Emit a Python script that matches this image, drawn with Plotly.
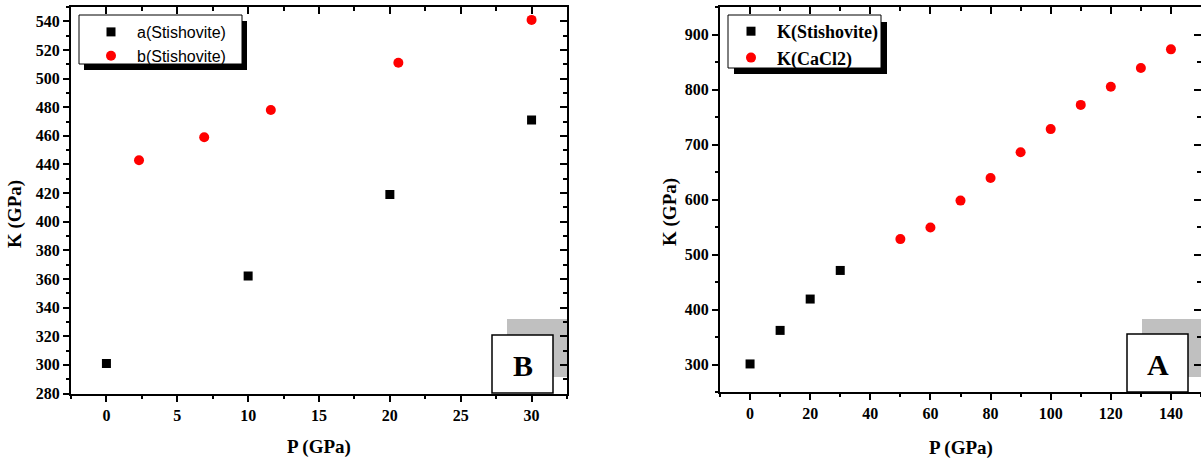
import plotly.graph_objects as go

W, H = 1201, 458

# ---- Panel B data ----
P_a = [0, 10, 20, 30]
K_a = [301, 362, 419, 471]
P_b = [2.3, 6.9, 11.6, 20.6, 30.0]
K_b = [443, 459, 478, 511, 541]

# ---- Panel A data ----
P_stish = [0, 10, 20, 30]
K_stish = [301, 362, 419, 471]
P_cacl2 = [50, 60, 70, 80, 90, 100, 110, 120, 130, 140]
K_cacl2 = [528, 549, 598, 639, 686, 728, 772, 805, 839, 873]

names_B = ["a(Stishovite)", "b(Stishovite)"]
names_A = ["K(Stishovite)", "K(CaCl2)"]
x_title = "P (GPa)"
y_title = "K (GPa)"
panel_labels = ["B", "A"]


def fx(p):
    return p / W


def fy(p):
    return 1 - p / H


SERIF = "Liberation Serif, Times New Roman, serif"
SANS = "Liberation Sans, Arial, sans-serif"

fig = go.Figure()

sq = dict(symbol="square", size=9, color="black")
ci = dict(symbol="circle", size=10, color="#ff0000")

fig.add_trace(go.Scatter(x=P_a, y=K_a, mode="markers", marker=sq, name=names_B[0],
                         xaxis="x", yaxis="y", legend="legend"))
fig.add_trace(go.Scatter(x=P_b, y=K_b, mode="markers", marker=ci, name=names_B[1],
                         xaxis="x", yaxis="y", legend="legend"))
fig.add_trace(go.Scatter(x=P_stish, y=K_stish, mode="markers", marker=sq, name=names_A[0],
                         xaxis="x2", yaxis="y2", legend="legend2"))
fig.add_trace(go.Scatter(x=P_cacl2, y=K_cacl2, mode="markers", marker=ci, name=names_A[1],
                         xaxis="x2", yaxis="y2", legend="legend2"))
# invisible carriers for mirrored (inside-tick) axes
fig.add_trace(go.Scatter(x=P_a, y=K_a, mode="markers", marker=dict(opacity=0), showlegend=False,
                         hoverinfo="skip", xaxis="x3", yaxis="y3"))
fig.add_trace(go.Scatter(x=P_stish, y=K_stish, mode="markers", marker=dict(opacity=0), showlegend=False,
                         hoverinfo="skip", xaxis="x4", yaxis="y4"))

tickfont_l = dict(family=SERIF, size=16, color="black", weight="bold")
tickfont_r = dict(family=SERIF, size=16, color="black", weight="bold")


def main_axis(rng, dtick, mdtick, font, **kw):
    d = dict(range=rng, dtick=dtick, tick0=0, ticks="outside", ticklen=6, tickwidth=1.5,
             tickcolor="black", showline=True, linewidth=2, linecolor="black",
             showgrid=False, zeroline=False, tickfont=font, automargin=False,
             minor=dict(dtick=mdtick, ticks="outside", ticklen=3, tickwidth=1.5,
                        tickcolor="black", showgrid=False))
    d.update(kw)
    return d


def mirror_axis(rng, dtick, mdtick, **kw):
    d = dict(range=rng, dtick=dtick, tick0=0, ticks="inside", ticklen=7, tickwidth=1.5,
             tickcolor="black", showline=True, linewidth=2, linecolor="black",
             showgrid=False, zeroline=False, showticklabels=False, automargin=False,
             minor=dict(dtick=mdtick, ticks="inside", ticklen=4, tickwidth=1.5,
                        tickcolor="black", showgrid=False))
    d.update(kw)
    return d


dom_xB = [fx(71), fx(567)]
dom_yB = [fy(393.5), fy(7)]
dom_xA = [fx(720), 1.0]
dom_yA = [fy(392), fy(7)]

rxB, ryB = [-2.5, 32.5], [280, 550]
rxA, ryA = [-10, 150], [250, 950]

layout = dict(
    width=W, height=H,
    margin=dict(l=0, r=0, t=0, b=0, pad=0, autoexpand=False),
    paper_bgcolor="white", plot_bgcolor="rgba(0,0,0,0)",
    xaxis=main_axis(rxB, 5, 2.5, tickfont_l, domain=dom_xB, anchor="y"),
    yaxis=main_axis(ryB, 20, 10, tickfont_l, domain=dom_yB, anchor="x"),
    xaxis2=main_axis(rxA, 20, 10, tickfont_r, domain=dom_xA, anchor="y2"),
    yaxis2=main_axis(ryA, 100, 50, tickfont_r, domain=dom_yA, anchor="x2"),
    xaxis3=mirror_axis(rxB, 5, 2.5, overlaying="x", side="top", anchor="y3"),
    yaxis3=mirror_axis(ryB, 20, 10, overlaying="y", side="right", anchor="x3"),
    xaxis4=mirror_axis(rxA, 20, 10, overlaying="x2", side="top", anchor="y4"),
    yaxis4=mirror_axis(ryA, 100, 50, overlaying="y2", side="right", anchor="x4"),
    showlegend=True,
    legend=dict(x=fx(85), y=fy(15), xanchor="left", yanchor="top", itemwidth=42,
                bgcolor="rgba(0,0,0,0)", borderwidth=0, tracegroupgap=0,
                font=dict(family=SANS, size=16, color="black")),
    legend2=dict(x=fx(725), y=fy(13), xanchor="left", yanchor="top", itemwidth=42,
                 bgcolor="rgba(0,0,0,0)", borderwidth=0, tracegroupgap=0,
                 font=dict(family=SERIF, size=18, color="black", weight="bold")),
)
fig.update_layout(**layout)


def rect(x0, y0, x1, y1, fill, line_w=0, layer="above"):
    return dict(type="rect", xref="paper", yref="paper",
                x0=fx(x0), x1=fx(x1), y0=fy(y1), y1=fy(y0),
                fillcolor=fill, line=dict(color="black", width=line_w), layer=layer)


shapes = [
    # legend B: shadow + box
    rect(84, 21, 247, 70, "black"),
    rect(79, 15, 242, 64, "white", 1),
    # legend A: shadow + box
    rect(734, 22, 887, 74, "black"),
    rect(728, 15, 881, 68, "white", 1),
    # label B
    rect(507, 319, 568, 377, "#c0c0c0", 0, "below"),
    rect(492, 335, 553, 393, "white", 1.5),
    # label A
    rect(1142, 319, 1205, 377, "#c0c0c0", 0, "below"),
    rect(1127, 334, 1188, 392, "white", 1.5),
]
fig.update_layout(shapes=shapes)

title_font = dict(family=SERIF, size=19, color="black", weight="bold")
ann = [
    dict(text=x_title, x=fx(319), y=fy(447), xref="paper", yref="paper",
         showarrow=False, font=title_font, xanchor="center", yanchor="middle"),
    dict(text=x_title, x=fx(961), y=fy(448), xref="paper", yref="paper",
         showarrow=False, font=title_font, xanchor="center", yanchor="middle"),
    dict(text=y_title, x=fx(15), y=fy(214), xref="paper", yref="paper", textangle=-90,
         showarrow=False, font=title_font, xanchor="center", yanchor="middle"),
    dict(text=y_title, x=fx(670), y=fy(212), xref="paper", yref="paper", textangle=-90,
         showarrow=False, font=title_font, xanchor="center", yanchor="middle"),
    dict(text=panel_labels[0], x=fx(522.5), y=fy(365), xref="paper", yref="paper",
         showarrow=False, font=dict(family=SERIF, size=30, color="black", weight="bold"),
         xanchor="center", yanchor="middle"),
    dict(text=panel_labels[1], x=fx(1157.5), y=fy(364), xref="paper", yref="paper",
         showarrow=False, font=dict(family=SERIF, size=30, color="black", weight="bold"),
         xanchor="center", yanchor="middle"),
]
fig.update_layout(annotations=ann)

fig.write_html(
    "out.html",
    config={"displayModeBar": False},
    post_script="document.body.style.margin='0';document.body.style.overflow='hidden';",
)
